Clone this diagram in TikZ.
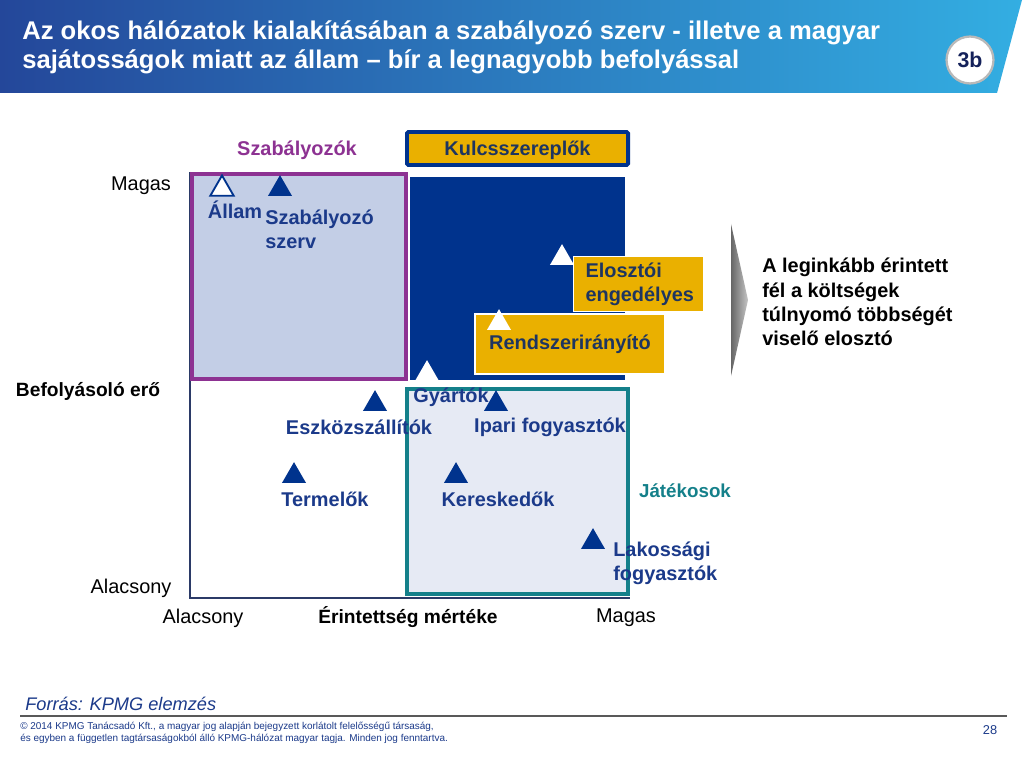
\documentclass[tikz,border=0pt]{standalone}
\usepackage{fontspec}
\setmainfont{Liberation Sans}
\usetikzlibrary{shapes.geometric}
\definecolor{navy}{HTML}{00338D}
\definecolor{lblue}{HTML}{1B3A8A}
\definecolor{hdrL}{HTML}{24479A}
\definecolor{hdrR}{HTML}{33AEE2}
\definecolor{purp}{HTML}{8D3292}
\definecolor{pfill}{HTML}{C3CEE6}
\definecolor{teal}{HTML}{14808A}
\definecolor{tfill}{HTML}{E6EAF4}
\definecolor{gold}{HTML}{EAB000}
\definecolor{dtext}{HTML}{1E3560}
\definecolor{badge}{HTML}{14215A}
\definecolor{axisc}{HTML}{2B3A67}
\begin{document}
\begin{tikzpicture}[x=0.703125pt,y=-0.703125pt,
  lbl/.style={font=\fontsize{14}{17}\selectfont\bfseries, text=lblue, inner sep=0pt, align=left},
  axl/.style={font=\fontsize{14}{17}\selectfont, text=black, inner sep=0pt},
  axb/.style={font=\fontsize{14}{17}\selectfont\bfseries, text=black, inner sep=0pt},
  tri/.style={regular polygon, regular polygon sides=3, minimum size=19.5pt, inner sep=0pt, fill=navy, draw=none},
  wtri/.style={tri, fill=white},
  ybox/.style={fill=gold, draw=white, line width=0.8pt, font=\fontsize{14}{17}\selectfont\bfseries, text=dtext, inner sep=0pt}
]
\useasboundingbox (0,0) rectangle (1024,768);
\fill[white] (0,0) rectangle (1024,768);

% header band
\shade[left color=hdrL, right color=hdrR] (0,0) -- (1022,0) -- (997,93) -- (0,93) -- cycle;
\node[anchor=west, text=white, font=\fontsize{18}{20.4}\selectfont\bfseries, align=left, inner sep=0pt] (title) at (22,47.5)
  {Az okos hálózatok kialakításában a szabályozó szerv - illetve a magyar\\sajátosságok miatt az állam – bír a legnagyobb befolyással};
\node[circle, fill=white, draw=gray!55, line width=1.6pt, minimum size=33pt, inner sep=0pt,
  font=\fontsize{15}{17}\selectfont\bfseries, text=badge] (badge) at (970,60) {3b};

% axes
\draw[axisc, line width=1pt] (190,172) -- (190,598) -- (630,598);

% regions
\fill[navy] (410,177) rectangle (625,380);
\draw[purp, fill=pfill, line width=2.8pt] (192,174) rectangle (406,379);
\draw[teal, fill=tfill, line width=2.8pt] (407,389) rectangle (628,594);

% header boxes of regions
\node[fill=gold, draw=navy, line width=2.8pt, rounded corners=1pt, minimum width=155.4pt, minimum height=23.2pt,
  font=\fontsize{14}{17}\selectfont\bfseries, text=dtext, inner sep=0pt, text depth=0.5pt] (kulcs) at (517.5,148.5) {Kulcsszereplők};
\node[lbl, text=purp] (szab) at (297,150) {Szabályozók};
\node[lbl, text=teal, font=\fontsize{13.2}{15}\selectfont\bfseries] (jatek) at (685,491) {Játékosok};

% axis labels
\node[axl] (ymag) at (141,186) {Magas};
\node[axb, font=\fontsize{13.5}{16}\selectfont\bfseries] (yax) at (88,391) {Befolyásoló erő};
\node[axl] (yala) at (131,588) {Alacsony};
\node[axl] (xala) at (203,618) {Alacsony};
\node[axb, font=\fontsize{13.5}{16}\selectfont\bfseries] (xax) at (408,617) {Érintettség mértéke};
\node[axl] (xmag) at (626,618) {Magas};

% yellow label boxes
\node[ybox, anchor=north west, align=left, text width=74.5pt, inner xsep=8.4pt, minimum height=38.7pt] (elo) at (573,256)
  {Elosztói\\engedélyes};
\node[ybox, minimum width=133.6pt, minimum height=42.2pt, text depth=3pt] (rend) at (570,344) {Rendszerirányító};

% triangles
\node[tri, fill=white, draw=navy, line width=1.3pt, minimum size=19pt] (tallam) at (222,189) {};
\node[tri] (tszab) at (280,189) {};
\node[wtri] (telo) at (562,258) {};
\node[wtri] (trend) at (499,323) {};
\node[wtri] (tgyar) at (427,374) {};
\node[tri] (tesz) at (375,404) {};
\node[tri] (tipar) at (496,404) {};
\node[tri] (tterm) at (294,476) {};
\node[tri] (tker) at (456,476) {};
\node[tri] (tlak) at (593,542) {};

% triangle labels
\node[lbl] (lallam) at (235,210) {Állam};
\node[lbl, anchor=west] (lszab) at (265,229) {Szabályozó\\szerv};
\node[lbl] (lgyar) at (451,397) {Gyártók};
\node[lbl] (lesz) at (359,427) {Eszközszállítók};
\node[lbl] (lipar) at (550,427) {Ipari fogyasztók};
\node[lbl] (lterm) at (325,499) {Termelők};
\node[lbl] (lker) at (498,499) {Kereskedők};
\node[lbl, anchor=west] (llak) at (613,563) {Lakossági\\fogyasztók};

% chevron and conclusion
\shade[left color=gray!80!black, right color=gray!45] (731,224) -- (748,300) -- (731,376) -- cycle;
\node[anchor=west, align=left, font=\fontsize{14}{17}\selectfont\bfseries, text=black, inner sep=0pt] (concl) at (762,302)
  {A leginkább érintett\\fél a költségek\\túlnyomó többségét\\viselő elosztó};

% footer
\node[anchor=west, font=\fontsize{12.8}{15}\selectfont\itshape, text=lblue, inner sep=0pt] (src) at (25,704) {Forrás: KPMG elemzés};
\draw[gray!70!black, line width=0.8pt] (20,716) -- (1007,716);
\node[anchor=west, align=left, font=\fontsize{7}{8}\selectfont, text=lblue, inner sep=0pt] (copy) at (20,733)
  {© 2014 KPMG Tanácsadó Kft., a magyar jog alapján bejegyzett korlátolt felelősségű társaság,\\és egyben a független tagtársaságokból álló KPMG-hálózat magyar tagja. Minden jog fenntartva.};
\node[font=\fontsize{9}{11}\selectfont, text=lblue, inner sep=0pt] (page) at (990,730) {28};
\end{tikzpicture}
\end{document}
